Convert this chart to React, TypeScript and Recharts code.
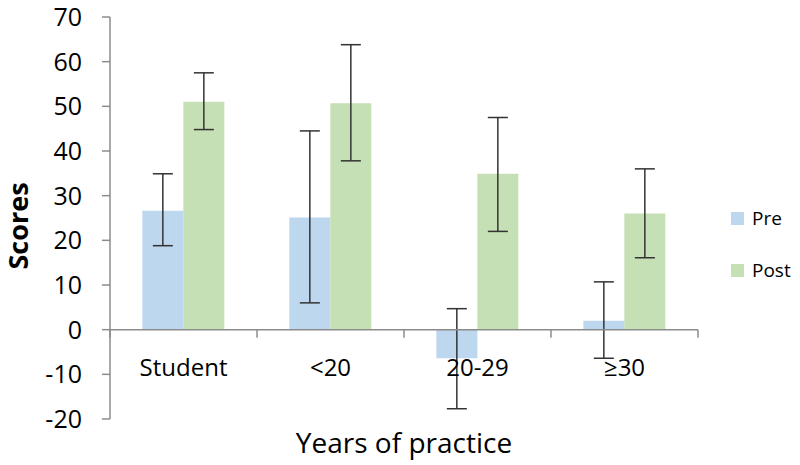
import React from 'react';
import { BarChart, Bar, XAxis, YAxis, ErrorBar, ReferenceLine, Legend, Label } from 'recharts';

const categories = ['Student', '<20', '20-29', '≥30'];
const preValues = [26.6, 25.1, -6.4, 2.0];
const preLow = [18.8, 6.0, -17.7, -6.4];
const preHigh = [34.9, 44.5, 4.7, 10.7];
const postValues = [51.0, 50.7, 34.9, 26.0];
const postLow = [44.8, 37.8, 22.0, 16.1];
const postHigh = [57.5, 63.8, 47.5, 36.0];
const yTicks = [-20, -10, 0, 10, 20, 30, 40, 50, 60, 70];

const data = categories.map((c, i) => ({
  name: c,
  Pre: preValues[i],
  preErr: [preValues[i] - preLow[i], preHigh[i] - preValues[i]],
  Post: postValues[i],
  postErr: [postValues[i] - postLow[i], postHigh[i] - postValues[i]],
}));

const PRE_COLOR = '#BDD7EE';
const POST_COLOR = '#C5E0B4';
const AXIS_COLOR = '#8c8c8c';
const FONT = '"Open Sans", sans-serif';

const XTick = (props: any) => {
  const { x, payload } = props;
  return (
    <text x={x} y={376} textAnchor="middle" fontSize={24} fontFamily={FONT} fill="#000">
      {payload.value}
    </text>
  );
};

const LegendContent = () => (
  <div style={{ fontFamily: FONT, fontSize: 19, color: '#000' }}>
    {[
      { name: 'Pre', color: PRE_COLOR },
      { name: 'Post', color: POST_COLOR },
    ].map((it, i) => (
      <div key={it.name} style={{ display: 'flex', alignItems: 'center', height: 26, marginBottom: i === 0 ? 26 : 0 }}>
        <span style={{ display: 'inline-block', width: 13, height: 13, background: it.color, marginRight: 8 }} />
        <span>{it.name}</span>
      </div>
    ))}
  </div>
);

export default function App() {
  return (
    <div style={{ position: 'absolute', left: 0, top: 0, width: 800, height: 465, background: '#fff' }}>
      <BarChart
        width={800}
        height={465}
        data={data}
        margin={{ top: 17, right: 102, bottom: 0, left: 0 }}
        barCategoryGap="22%"
        barGap={0}
        style={{ fontFamily: FONT }}
      >
        <XAxis dataKey="name" axisLine={false} tickLine={false} height={46} tick={<XTick />} interval={0}>
          <Label
            content={() => (
              <text x={404} y={453} textAnchor="middle" fontSize={28} fontFamily={FONT} fill="#000">
                Years of practice
              </text>
            )}
          />
        </XAxis>
        <YAxis
          width={110}
          domain={[-20, 70]}
          ticks={yTicks}
          interval={0}
          axisLine={{ stroke: AXIS_COLOR, strokeWidth: 1.5 }}
          tickLine={{ stroke: AXIS_COLOR, strokeWidth: 1.5 }}
          tickSize={8}
          tickMargin={20}
          tick={{ fontSize: 25, fill: '#000', fontFamily: FONT }}
        >
          <Label
            content={() => (
              <text
                x={28}
                y={226}
                textAnchor="middle"
                fontSize={27}
                fontWeight="bold"
                fontFamily={FONT}
                fill="#000"
                transform="rotate(-90 28 226)"
              >
                Scores
              </text>
            )}
          />
        </YAxis>
        <Legend
          layout="vertical"
          align="center"
          verticalAlign="middle"
          content={<LegendContent />}
          wrapperStyle={{ position: 'absolute', left: 731, top: 205, width: 80 }}
        />
        <Bar dataKey="Pre" fill={PRE_COLOR} isAnimationActive={false}>
          <ErrorBar dataKey="preErr" width={10} stroke="#333" strokeWidth={1.5} />
        </Bar>
        <Bar dataKey="Post" fill={POST_COLOR} isAnimationActive={false}>
          <ErrorBar dataKey="postErr" width={10} stroke="#333" strokeWidth={1.5} />
        </Bar>
        <ReferenceLine y={0} stroke={AXIS_COLOR} strokeWidth={1.5} />
        {categories.map((c) => (
          <ReferenceLine
            key={'t' + c}
            segment={[{ x: c, y: 0 }, { x: c, y: -1.8 }]}
            position="start"
            stroke={AXIS_COLOR}
            strokeWidth={1.5}
            ifOverflow="visible"
          />
        ))}
        <ReferenceLine
          segment={[{ x: categories[categories.length - 1], y: 0 }, { x: categories[categories.length - 1], y: -1.8 }]}
          position="end"
          stroke={AXIS_COLOR}
          strokeWidth={1.5}
          ifOverflow="visible"
        />
      </BarChart>
    </div>
  );
}
